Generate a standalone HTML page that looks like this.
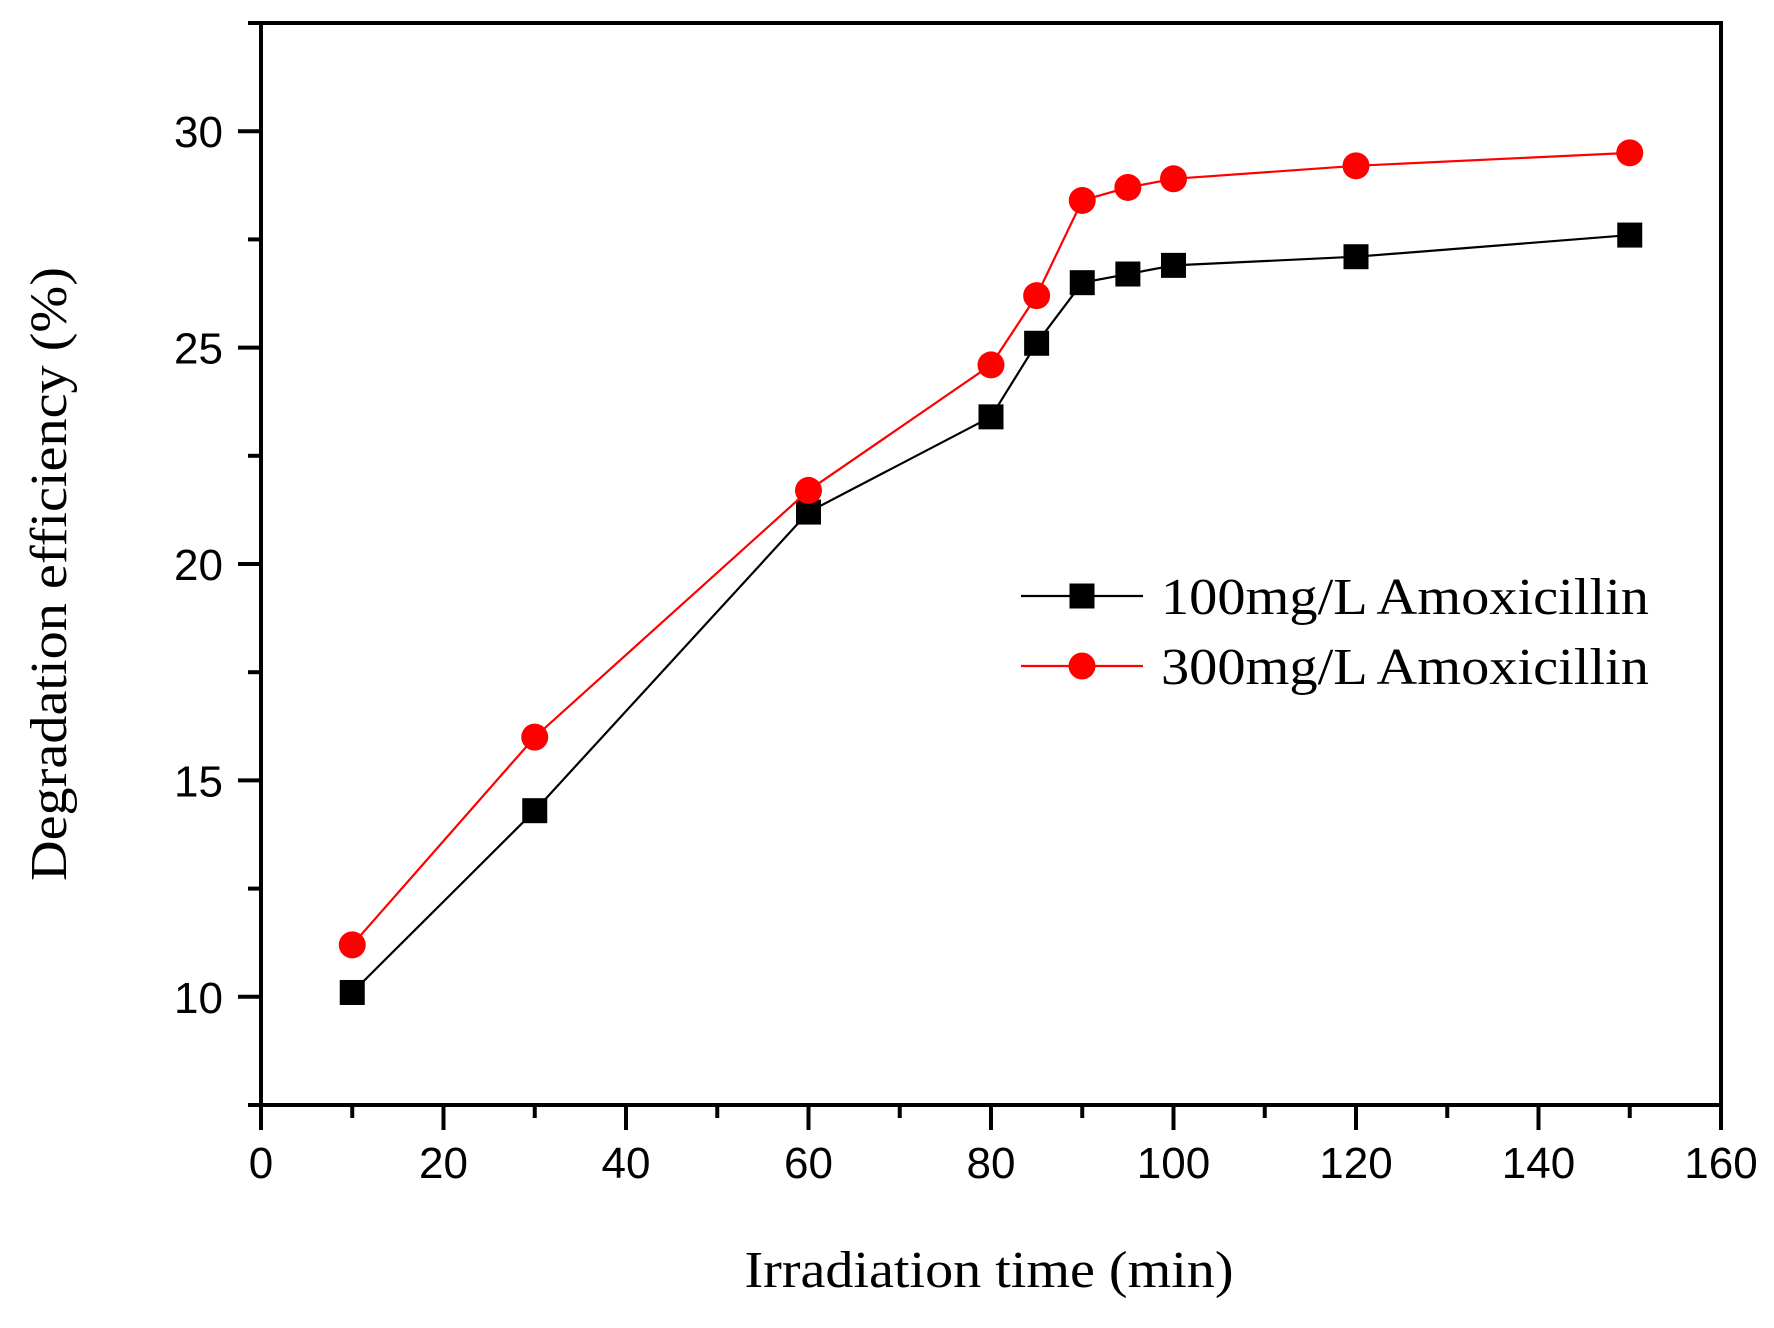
<!DOCTYPE html>
<html><head><meta charset="utf-8"><style>
html,body{margin:0;padding:0;background:#fff;}
svg{display:block;}
</style></head><body>
<svg id="chart" width="1774" height="1328" viewBox="0 0 1774 1328" xmlns="http://www.w3.org/2000/svg">
<g id="axes"></g>
<g id="series"></g>
<g id="legend"></g>
<text transform="translate(66,574) rotate(-90)" text-anchor="middle" font-family="Liberation Serif, serif" font-size="52" textLength="614" lengthAdjust="spacingAndGlyphs" fill="#000">Degradation efficiency (%)</text>
<text x="989" y="1287" text-anchor="middle" font-family="Liberation Serif, serif" font-size="52" textLength="489" lengthAdjust="spacingAndGlyphs" fill="#000">Irradiation time (min)</text>
</svg>
<script>
const xValues = [10, 30, 60, 80, 85, 90, 95, 100, 120, 150];
const series100 = [10.1, 14.3, 21.2, 23.4, 25.1, 26.5, 26.7, 26.9, 27.1, 27.6];
const series300 = [11.2, 16.0, 21.7, 24.6, 26.2, 28.4, 28.7, 28.9, 29.2, 29.5];
const xTicks = [0, 20, 40, 60, 80, 100, 120, 140, 160];
const yTicks = [10, 15, 20, 25, 30];

const NS = 'http://www.w3.org/2000/svg';
const L = 261, R = 1721, T = 23, B = 1105;
const xMin = 0, xMax = 160, yMin = 7.5, yMax = 32.5;
function xs(v){ return L + (v - xMin) / (xMax - xMin) * (R - L); }
function ys(v){ return B - (v - yMin) / (yMax - yMin) * (B - T); }
function mk(tag, attrs, parent){
  const e = document.createElementNS(NS, tag);
  for (const k in attrs) e.setAttribute(k, attrs[k]);
  parent.appendChild(e);
  return e;
}
const axes = document.getElementById('axes');
const frame = mk('rect', {x:L, y:T, width:R-L, height:B-T, fill:'none', stroke:'#000', 'stroke-width':4}, axes);



for (let v = xMin; v <= xMax; v += 10) {
  const major = v % 20 === 0;
  const t = mk('line', {x1:xs(v), x2:xs(v), y1:B, y2:B + (major ? 25 : 13), stroke:'#000', 'stroke-width':4}, axes);
  
  
}
xTicks.forEach(v => {
  const tx = mk('text', {x:xs(v), y:1178, 'text-anchor':'middle', 'font-family':'Liberation Sans, sans-serif', 'font-size':44, fill:'#000'}, axes);
  tx.textContent = v;
  
  
});
for (let v = 7.5; v <= 32.5; v += 2.5) {
  const major = v % 5 === 0;
  const t = mk('line', {x1:L, x2:L - (major ? 23 : 13), y1:ys(v), y2:ys(v), stroke:'#000', 'stroke-width':4}, axes);
  
  
}
yTicks.forEach(v => {
  const tx = mk('text', {x:223, y:ys(v) + 16, 'text-anchor':'end', 'font-family':'Liberation Sans, sans-serif', 'font-size':44, fill:'#000'}, axes);
  tx.textContent = v;
  
  
});

const sg = document.getElementById('series');
function drawSeries(vals, color, shape, name){
  const g = mk('g', {}, sg);
  
  
  const pts = xValues.map((x, i) => xs(x) + ',' + ys(vals[i])).join(' ');
  const pl = mk('polyline', {points:pts, fill:'none', stroke:color, 'stroke-width':2.2}, g);
  
  
  xValues.forEach((x, i) => {
    let m;
    if (shape === 'square') m = mk('rect', {x:xs(x) - 12.5, y:ys(vals[i]) - 12.5, width:25, height:25, fill:color}, g);
    else m = mk('circle', {cx:xs(x), cy:ys(vals[i]), r:13.5, fill:color}, g);
    
    
  });
}
drawSeries(series100, '#000', 'square', 'series-100mg');
drawSeries(series300, '#ff0000', 'circle', 'series-300mg');

const lg = document.getElementById('legend');
function legendEntry(y, color, shape, label){
  const g = mk('g', {}, lg);
  
  
  mk('line', {x1:1021, x2:1143, y1:y, y2:y, stroke:color, 'stroke-width':2.2}, g);
  if (shape === 'square') mk('rect', {x:1082 - 12.5, y:y - 12.5, width:25, height:25, fill:color}, g);
  else mk('circle', {cx:1082, cy:y, r:13.5, fill:color}, g);
  const t = mk('text', {x:1161, y:y + 18, 'font-family':'Liberation Serif, serif', 'font-size':52, textLength:488, lengthAdjust:'spacingAndGlyphs', fill:'#000'}, g);
  t.textContent = label;
}
legendEntry(596, '#000', 'square', '100mg/L Amoxicillin');
legendEntry(666, '#ff0000', 'circle', '300mg/L Amoxicillin');
</script>
</body></html>
